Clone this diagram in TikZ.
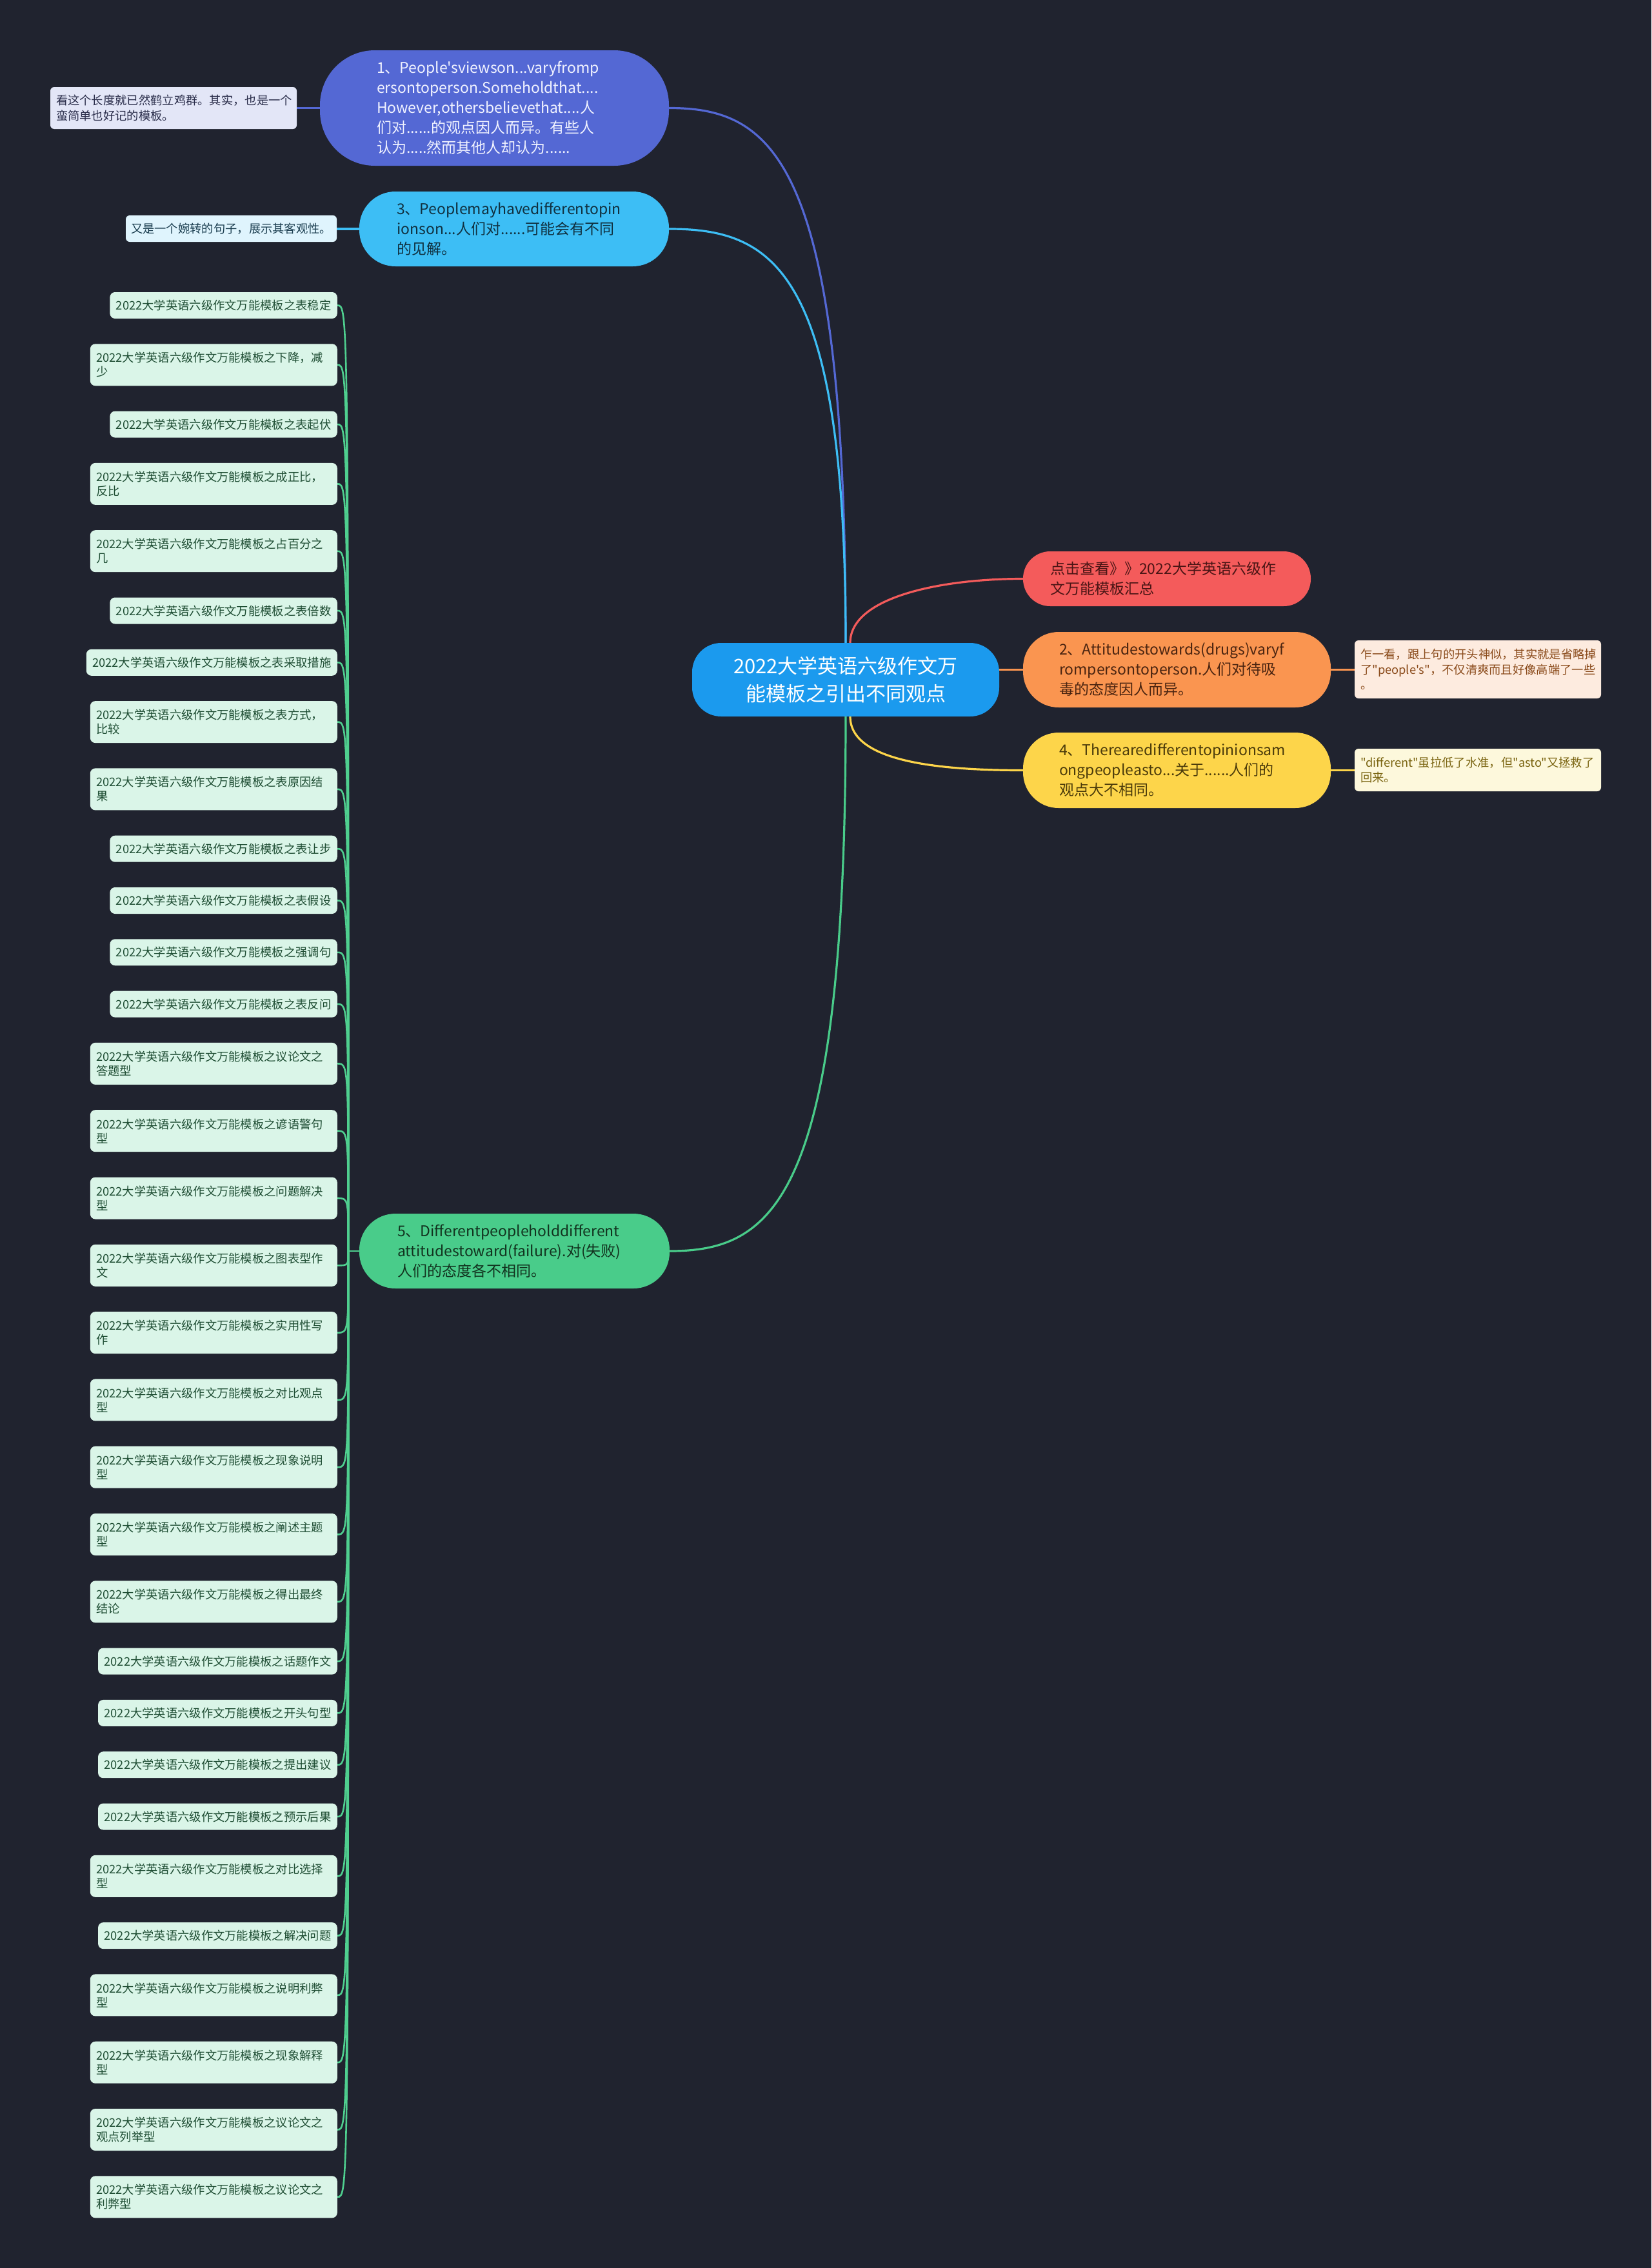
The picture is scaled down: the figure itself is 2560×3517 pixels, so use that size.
\documentclass[tikz,border=0pt]{standalone}
\usepackage{fontspec}
\newfontfamily\cjk{Noto Sans CJK SC}
\usetikzlibrary{calc}
\definecolor{bgc}{HTML}{20232F}
\definecolor{rootc}{HTML}{1B9AEE}
\definecolor{redc}{HTML}{F45B5B}
\definecolor{redt}{HTML}{4A1515}
\definecolor{orc}{HTML}{FA9550}
\definecolor{ort}{HTML}{4A2410}
\definecolor{yec}{HTML}{FDD54A}
\definecolor{yet}{HTML}{4A3A0A}
\definecolor{puc}{HTML}{5468D4}
\definecolor{put}{HTML}{F0F2FF}
\definecolor{cyc}{HTML}{3DBEF5}
\definecolor{cyt}{HTML}{10303F}
\definecolor{grc}{HTML}{49CC8A}
\definecolor{grt}{HTML}{12331F}
\definecolor{leaffill}{HTML}{DAF5E8}
\definecolor{leaftext}{HTML}{1E4D33}
\definecolor{leafline}{HTML}{4FCF8F}
\definecolor{nonef}{HTML}{E3E6F7}
\definecolor{nonet}{HTML}{2A2D4A}
\definecolor{nthreef}{HTML}{DFF4FD}
\definecolor{nthreet}{HTML}{1A3D4F}
\definecolor{norf}{HTML}{FDEBDF}
\definecolor{nort}{HTML}{8A4A1A}
\definecolor{nyef}{HTML}{FDF8DC}
\definecolor{nyet}{HTML}{7A6410}
\pgfdeclarelayer{back}
\pgfsetlayers{back,main}
\newcommand\lpfx{2022大学英语六级作文万能模板之}
\begin{document}
\begin{tikzpicture}[x=1pt,y=-1pt,
  leafS/.style={fill=leaffill, text=leaftext, rounded corners=8pt, minimum height=41pt,
    inner xsep=9.5pt, inner ysep=2pt, anchor=east, font={\cjk\fontsize{18.3}{22}\selectfont}},
  leafD/.style={leafS, minimum height=65pt, text width=364pt, align=left},
  mainbox/.style={inner sep=0pt, align=left, font={\cjk\fontsize{23}{31}\selectfont}},
  notebox/.style={inner sep=0pt, rounded corners=6pt, align=left, font={\cjk\fontsize{18.3}{23.5}\selectfont}},
  conn/.style={line width=3.2pt, line cap=round},
  lconn/.style={line width=2.6pt, leafline, line cap=round}
]
\begin{pgfonlayer}{back}
\fill[bgc] (0,0) rectangle (2560,3517);
\end{pgfonlayer}
\useasboundingbox (0,0) rectangle (2560,3517);

% root
\node[fill=rootc, text=white, rounded corners=45pt, minimum width=476pt, minimum height=114pt,
  inner sep=0pt, align=center, font={\cjk\fontsize{31}{43}\selectfont}] (root) at (1311,1054)
  {2022大学英语六级作文万\\能模板之引出不同观点};

% right side
\node[mainbox, fill=redc, text=redt, rounded corners=42pt, minimum width=446pt, minimum height=85pt, text width=362pt]
  (red) at (1809,897.5) {点击查看》》2022大学英语六级作\\文万能模板汇总};
\node[mainbox, fill=orc, text=ort, rounded corners=55pt, minimum width=477pt, minimum height=117pt, text width=365pt]
  (orange) at (1824.5,1038.5) {2、Attitudestowards(drugs)varyf\\rompersontoperson.人们对待吸\\毒的态度因人而异。};
\node[mainbox, fill=yec, text=yet, rounded corners=55pt, minimum width=477pt, minimum height=117pt, text width=365pt]
  (yellow) at (1824.5,1194.5) {4、Therearedifferentopinionsam\\ongpeopleasto...关于......人们的\\观点大不相同。};
\node[notebox, fill=norf, text=nort, minimum width=382pt, minimum height=90pt, text width=364pt]
  (ornote) at (2291,1038) {乍一看，跟上句的开头神似，其实就是省略掉\\了"people's"，不仅清爽而且好像高端了一些\\。};
\node[notebox, fill=nyef, text=nyet, minimum width=382pt, minimum height=66pt, text width=364pt]
  (yenote) at (2291,1194) {"different"虽拉低了水准，但"asto"又拯救了\\回来。};

% left side
\node[mainbox, fill=puc, text=put, rounded corners=85pt, minimum width=541pt, minimum height=179pt, text width=365pt]
  (one) at (766.5,167.5) {1、People'sviewson...varyfromp\\ersontoperson.Someholdthat....\\However,othersbelievethat....人\\们对......的观点因人而异。有些人\\认为.....然而其他人却认为......};
\node[mainbox, fill=cyc, text=cyt, rounded corners=56pt, minimum width=480pt, minimum height=116pt, text width=364pt]
  (three) at (797,355) {3、Peoplemayhavedifferentopin\\ionson...人们对......可能会有不同\\的见解。};
\node[mainbox, fill=grc, text=grt, rounded corners=56pt, minimum width=481pt, minimum height=116pt, text width=363pt]
  (five) at (797.5,1940) {5、Differentpeopleholddifferent\\attitudestoward(failure).对(失败)\\人们的态度各不相同。};
\node[notebox, fill=nonef, text=nonet, minimum width=382pt, minimum height=65pt, text width=364pt]
  (onenote) at (269,167.5) {看这个长度就已然鹤立鸡群。其实，也是一个\\蛮简单也好记的模板。};
\node[notebox, fill=nthreef, text=nthreet, minimum width=327pt, minimum height=41pt, text width=311pt]
  (threenote) at (358.5,354.5) {又是一个婉转的句子，展示其客观性。};

% leaves
\node[leafS] (l1) at (523,473.5) {\lpfx 表稳定};
\node[leafD] (l2) at (523,565.8) {\lpfx 下降，减\\少};
\node[leafS] (l3) at (523,658.1) {\lpfx 表起伏};
\node[leafD] (l4) at (523,750.4) {\lpfx 成正比，\\反比};
\node[leafD] (l5) at (523,854.7) {\lpfx 占百分之\\几};
\node[leafS] (l6) at (523,947) {\lpfx 表倍数};
\node[leafS] (l7) at (523,1027.3) {\lpfx 表采取措施};
\node[leafD] (l8) at (523,1119.6) {\lpfx 表方式，\\比较};
\node[leafD] (l9) at (523,1223.9) {\lpfx 表原因结\\果};
\node[leafS] (l10) at (523,1316.2) {\lpfx 表让步};
\node[leafS] (l11) at (523,1396.5) {\lpfx 表假设};
\node[leafS] (l12) at (523,1476.8) {\lpfx 强调句};
\node[leafS] (l13) at (523,1557.1) {\lpfx 表反问};
\node[leafD] (l14) at (523,1649.4) {\lpfx 议论文之\\答题型};
\node[leafD] (l15) at (523,1753.7) {\lpfx 谚语警句\\型};
\node[leafD] (l16) at (523,1858) {\lpfx 问题解决\\型};
\node[leafD] (l17) at (523,1962.3) {\lpfx 图表型作\\文};
\node[leafD] (l18) at (523,2066.6) {\lpfx 实用性写\\作};
\node[leafD] (l19) at (523,2170.9) {\lpfx 对比观点\\型};
\node[leafD] (l20) at (523,2275.2) {\lpfx 现象说明\\型};
\node[leafD] (l21) at (523,2379.5) {\lpfx 阐述主题\\型};
\node[leafD] (l22) at (523,2483.8) {\lpfx 得出最终\\结论};
\node[leafS] (l23) at (523,2576.1) {\lpfx 话题作文};
\node[leafS] (l24) at (523,2656.4) {\lpfx 开头句型};
\node[leafS] (l25) at (523,2736.7) {\lpfx 提出建议};
\node[leafS] (l26) at (523,2817) {\lpfx 预示后果};
\node[leafD] (l27) at (523,2909.3) {\lpfx 对比选择\\型};
\node[leafS] (l28) at (523,3001.6) {\lpfx 解决问题};
\node[leafD] (l29) at (523,3093.9) {\lpfx 说明利弊\\型};
\node[leafD] (l30) at (523,3198.2) {\lpfx 现象解释\\型};
\node[leafD] (l31) at (523,3302.5) {\lpfx 议论文之\\观点列举型};
\node[leafD] (l32) at (523,3406.8) {\lpfx 议论文之\\利弊型};

\coordinate (hub) at (540,1940);

\begin{pgfonlayer}{back}
\draw[conn, redc] ([xshift=7pt]root.north) .. controls +(0,-70) and +(-130,0) .. (red.west);
\draw[conn, orc] (orange.west) -- (orange.west -| root.east);
\draw[conn, yec] ([xshift=7pt]root.south) .. controls +(0,70) and +(-130,0) .. (yellow.west);
\draw[conn, orc] (orange.east) -- (orange.east -| ornote.west);
\draw[conn, yec] (yellow.east) -- (yellow.east -| yenote.west);
\draw[conn, puc] (root.north) .. controls +(0,-747) and +(163,0) .. (one.east);
\draw[conn, cyc] (root.north) .. controls +(0,-578) and +(163,0) .. (three.east);
\draw[conn, grc] (root.south) .. controls +(0,746) and +(163,0) .. (five.east);
\draw[conn, puc] (one.west) -- (one.west -| onenote.east);
\draw[conn, cyc] (three.west) -- (three.west -| threenote.east);
\draw[lconn] (five.west) -- (hub);
\foreach \i in {1,...,32} {
  \draw[lconn] (hub) .. controls (hub |- l\i.east) .. (l\i.east);
}
\end{pgfonlayer}
\end{tikzpicture}
\end{document}
